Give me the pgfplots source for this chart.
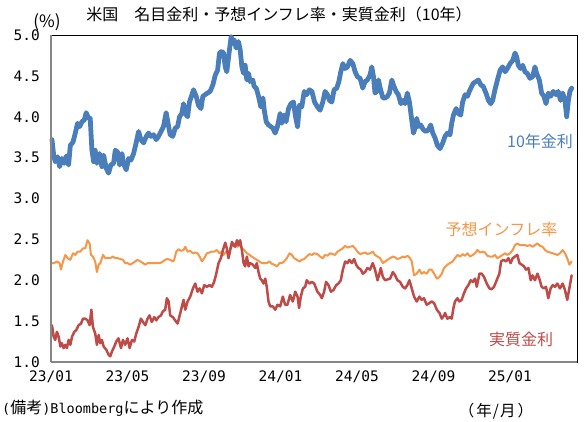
\documentclass[border=0pt]{standalone}
\usepackage{pgfplots}
\pgfplotsset{compat=1.18}
\usepackage{fontspec}
\setmainfont{Noto Sans CJK JP}
\newfontfamily\mono{DejaVu Sans Mono}
\definecolor{cblue}{RGB}{74,126,187}
\definecolor{corange}{RGB}{247,150,70}
\definecolor{cred}{RGB}{190,75,72}
\definecolor{caxis}{RGB}{134,134,134}
\begin{document}
\begin{tikzpicture}[x=1pt,y=1pt]
\path[use as bounding box] (0,0) rectangle (587,421);
\begin{axis}[
  at={(51pt,59pt)}, anchor=south west,
  scale only axis, width=526pt, height=327pt,
  xmin=0, xmax=27.5, ymin=1, ymax=5,
  xtick={0,4,8,12,16,20,24},
  xticklabels={23/01,23/05,23/09,24/01,24/05,24/09,25/01},
  ytick={1,1.5,2,2.5,3,3.5,4,4.5,5},
  major tick length=0pt,
  /pgf/number format/assume math mode=true,
  yticklabel style={/pgf/number format/fixed, /pgf/number format/fixed zerofill, /pgf/number format/precision=1, anchor=east, inner sep=0pt, xshift=-11pt},
  ticklabel style={font=\mono\fontsize{14.5}{15}\selectfont, text=black},
  xticklabel style={anchor=north, inner sep=0pt, yshift=-9pt},
  axis line style={black, line width=1pt},
  clip=false,
  every axis plot/.append style={line join=round, line cap=round},
  after end axis/.code={
    \draw[caxis, line width=1.2pt] (rel axis cs:0,0) -- (rel axis cs:0,1);
    \draw[caxis, line width=1.2pt] (rel axis cs:0,0) -- (rel axis cs:1,0);
  },
]
% 10-year nominal yield
\addplot[cblue, line width=4.8pt] coordinates {
(0.05,3.72)(0.14,3.53)(0.22,3.45)(0.35,3.51)(0.45,3.39)(0.57,3.49)(0.69,3.43)(0.80,3.52)(0.92,3.41)(1.01,3.65)(1.15,3.69)(1.27,3.80)(1.39,3.92)(1.50,3.88)(1.62,3.94)(1.74,3.96)(1.84,4.05)(1.97,3.98)(2.05,3.98)(2.14,3.59)(2.23,3.45)(2.31,3.59)(2.40,3.43)(2.54,3.55)(2.66,3.39)(2.75,3.53)(2.89,3.37)(3.01,3.31)(3.13,3.41)(3.27,3.43)(3.36,3.59)(3.48,3.57)(3.59,3.41)(3.71,3.55)(3.79,3.43)(3.93,3.35)(4.06,3.49)(4.18,3.47)(4.32,3.55)(4.46,3.69)(4.58,3.82)(4.70,3.72)(4.84,3.68)(4.98,3.76)(5.10,3.80)(5.22,3.76)(5.36,3.78)(5.50,3.72)(5.62,3.76)(5.75,3.82)(5.88,3.88)(6.02,4.05)(6.15,3.88)(6.23,3.78)(6.37,3.76)(6.49,3.86)(6.62,3.88)(6.72,4.00)(6.84,4.04)(6.93,4.16)(7.02,4.04)(7.14,4.00)(7.24,4.18)(7.37,4.27)(7.45,4.33)(7.59,4.25)(7.71,4.14)(7.84,4.10)(7.94,4.25)(8.06,4.27)(8.18,4.29)(8.32,4.31)(8.46,4.39)(8.59,4.51)(8.71,4.57)(8.81,4.78)(8.93,4.80)(9.02,4.78)(9.11,4.61)(9.19,4.55)(9.33,4.82)(9.42,4.98)(9.51,4.90)(9.58,4.94)(9.68,4.84)(9.80,4.92)(9.89,4.82)(9.98,4.61)(10.07,4.53)(10.15,4.63)(10.24,4.45)(10.33,4.53)(10.41,4.43)(10.55,4.45)(10.62,4.37)(10.73,4.35)(10.85,4.25)(10.97,4.12)(11.08,4.23)(11.15,4.08)(11.25,3.94)(11.37,3.90)(11.49,3.88)(11.60,3.86)(11.72,3.80)(11.84,3.88)(11.98,4.04)(12.07,3.92)(12.19,4.02)(12.29,3.94)(12.42,4.10)(12.54,4.16)(12.68,4.18)(12.77,4.02)(12.89,3.88)(12.99,4.14)(13.11,4.12)(13.24,4.31)(13.37,4.27)(13.51,4.33)(13.64,4.31)(13.78,4.18)(13.93,4.12)(14.07,4.08)(14.21,4.18)(14.33,4.31)(14.45,4.27)(14.56,4.20)(14.68,4.18)(14.80,4.33)(14.94,4.35)(15.05,4.43)(15.15,4.55)(15.26,4.65)(15.38,4.59)(15.50,4.61)(15.64,4.69)(15.78,4.65)(15.90,4.55)(16.02,4.49)(16.16,4.47)(16.30,4.35)(16.42,4.43)(16.54,4.45)(16.68,4.51)(16.77,4.61)(16.86,4.49)(16.94,4.29)(17.03,4.31)(17.12,4.45)(17.21,4.35)(17.35,4.23)(17.47,4.23)(17.59,4.25)(17.69,4.29)(17.82,4.45)(17.90,4.39)(18.04,4.31)(18.16,4.27)(18.29,4.16)(18.42,4.20)(18.51,4.16)(18.63,4.29)(18.74,4.18)(18.86,3.96)(18.95,3.80)(19.03,3.86)(19.12,3.98)(19.21,3.88)(19.33,3.90)(19.47,3.84)(19.61,3.82)(19.73,3.84)(19.85,3.90)(19.96,3.80)(20.08,3.74)(20.20,3.65)(20.34,3.61)(20.48,3.68)(20.60,3.76)(20.72,3.80)(20.86,3.78)(20.95,3.92)(21.04,4.02)(21.18,4.10)(21.30,4.04)(21.42,4.02)(21.52,4.18)(21.65,4.27)(21.77,4.25)(21.87,4.31)(21.99,4.37)(22.08,4.41)(22.22,4.43)(22.34,4.45)(22.47,4.39)(22.60,4.37)(22.74,4.29)(22.87,4.20)(22.99,4.16)(23.09,4.20)(23.21,4.33)(23.34,4.45)(23.48,4.57)(23.61,4.61)(23.74,4.55)(23.86,4.59)(24.00,4.65)(24.14,4.69)(24.26,4.78)(24.35,4.73)(24.43,4.63)(24.55,4.59)(24.66,4.63)(24.78,4.55)(24.90,4.53)(25.04,4.47)(25.18,4.49)(25.30,4.61)(25.39,4.53)(25.53,4.45)(25.65,4.29)(25.77,4.25)(25.88,4.16)(26.00,4.29)(26.12,4.25)(26.26,4.31)(26.40,4.27)(26.52,4.31)(26.64,4.20)(26.75,4.29)(26.87,4.20)(26.96,4.00)(27.05,4.20)(27.13,4.31)(27.22,4.35)
};
% breakeven inflation
\addplot[corange, line width=2pt] coordinates {
(0.05,2.21)(0.17,2.21)(0.31,2.23)(0.45,2.21)(0.52,2.13)(0.63,2.23)(0.75,2.31)(0.87,2.27)(1.01,2.25)(1.15,2.33)(1.27,2.31)(1.39,2.35)(1.53,2.35)(1.67,2.39)(1.79,2.39)(1.91,2.49)(2.02,2.45)(2.09,2.31)(2.19,2.29)(2.31,2.23)(2.40,2.10)(2.49,2.19)(2.58,2.21)(2.72,2.31)(2.84,2.27)(2.96,2.27)(3.10,2.27)(3.24,2.29)(3.36,2.27)(3.48,2.27)(3.62,2.26)(3.76,2.25)(3.88,2.21)(4.00,2.21)(4.14,2.19)(4.28,2.21)(4.40,2.23)(4.53,2.25)(4.67,2.23)(4.81,2.21)(4.93,2.19)(5.05,2.21)(5.19,2.21)(5.33,2.21)(5.45,2.21)(5.57,2.21)(5.71,2.21)(5.85,2.23)(5.97,2.25)(6.09,2.26)(6.23,2.25)(6.37,2.23)(6.44,2.25)(6.55,2.35)(6.67,2.38)(6.79,2.36)(6.93,2.37)(7.02,2.41)(7.14,2.35)(7.28,2.36)(7.42,2.33)(7.54,2.34)(7.66,2.33)(7.77,2.29)(7.89,2.23)(8.01,2.27)(8.15,2.33)(8.29,2.34)(8.41,2.35)(8.53,2.35)(8.67,2.37)(8.81,2.33)(8.93,2.35)(9.02,2.31)(9.16,2.35)(9.28,2.33)(9.37,2.39)(9.51,2.43)(9.63,2.45)(9.75,2.41)(9.86,2.43)(9.98,2.39)(10.10,2.37)(10.24,2.33)(10.38,2.31)(10.50,2.29)(10.62,2.27)(10.76,2.25)(10.90,2.23)(11.02,2.21)(11.15,2.21)(11.28,2.21)(11.42,2.23)(11.55,2.20)(11.67,2.19)(11.81,2.17)(11.95,2.21)(12.07,2.21)(12.19,2.23)(12.33,2.27)(12.47,2.33)(12.59,2.31)(12.71,2.27)(12.85,2.25)(12.99,2.23)(13.11,2.25)(13.24,2.26)(13.37,2.29)(13.51,2.32)(13.64,2.31)(13.76,2.33)(13.93,2.32)(14.07,2.29)(14.21,2.27)(14.33,2.31)(14.45,2.30)(14.59,2.33)(14.73,2.32)(14.85,2.31)(14.98,2.35)(15.12,2.37)(15.25,2.39)(15.38,2.42)(15.50,2.40)(15.64,2.41)(15.78,2.42)(15.90,2.39)(16.02,2.35)(16.16,2.32)(16.30,2.33)(16.42,2.34)(16.54,2.32)(16.68,2.33)(16.82,2.35)(16.94,2.31)(17.07,2.29)(17.21,2.27)(17.35,2.21)(17.47,2.23)(17.59,2.25)(17.73,2.27)(17.87,2.29)(17.99,2.28)(18.11,2.26)(18.25,2.27)(18.39,2.29)(18.51,2.28)(18.63,2.30)(18.77,2.27)(18.86,2.23)(18.98,2.06)(19.12,2.08)(19.26,2.13)(19.38,2.08)(19.50,2.10)(19.64,2.08)(19.78,2.13)(19.90,2.13)(20.03,2.08)(20.17,2.02)(20.31,2.04)(20.43,2.08)(20.55,2.15)(20.72,2.19)(20.86,2.21)(21.00,2.23)(21.12,2.27)(21.25,2.31)(21.39,2.29)(21.52,2.32)(21.65,2.30)(21.77,2.33)(21.91,2.29)(22.05,2.31)(22.17,2.33)(22.29,2.37)(22.43,2.34)(22.57,2.35)(22.69,2.34)(22.81,2.30)(22.95,2.29)(23.09,2.29)(23.21,2.31)(23.34,2.27)(23.48,2.29)(23.61,2.31)(23.74,2.33)(23.86,2.31)(24.00,2.33)(24.14,2.37)(24.26,2.43)(24.38,2.45)(24.52,2.43)(24.66,2.43)(24.78,2.43)(24.90,2.42)(25.04,2.43)(25.18,2.41)(25.30,2.43)(25.43,2.45)(25.57,2.42)(25.70,2.41)(25.83,2.37)(25.95,2.35)(26.09,2.34)(26.23,2.33)(26.35,2.32)(26.47,2.31)(26.61,2.33)(26.75,2.37)(26.87,2.33)(26.99,2.27)(27.10,2.19)(27.22,2.23)
};
% real yield
\addplot[cred, line width=2.5pt] coordinates {
(0.05,1.45)(0.14,1.31)(0.22,1.27)(0.31,1.37)(0.40,1.31)(0.49,1.19)(0.57,1.23)(0.66,1.17)(0.75,1.21)(0.83,1.17)(0.92,1.27)(1.01,1.21)(1.10,1.31)(1.22,1.37)(1.32,1.39)(1.44,1.45)(1.57,1.47)(1.67,1.53)(1.79,1.53)(1.91,1.51)(2.02,1.45)(2.11,1.64)(2.19,1.43)(2.31,1.35)(2.40,1.21)(2.49,1.33)(2.58,1.23)(2.66,1.27)(2.75,1.19)(2.89,1.15)(3.01,1.09)(3.10,1.07)(3.19,1.13)(3.31,1.19)(3.41,1.25)(3.53,1.29)(3.66,1.17)(3.76,1.27)(3.88,1.21)(4.00,1.29)(4.11,1.17)(4.23,1.27)(4.35,1.25)(4.46,1.35)(4.58,1.43)(4.70,1.53)(4.81,1.49)(4.93,1.45)(5.05,1.53)(5.15,1.57)(5.27,1.49)(5.40,1.55)(5.50,1.51)(5.62,1.55)(5.75,1.57)(5.85,1.62)(5.97,1.64)(6.06,1.78)(6.15,1.74)(6.23,1.57)(6.37,1.55)(6.49,1.51)(6.62,1.47)(6.76,1.60)(6.93,1.76)(7.02,1.64)(7.14,1.74)(7.28,1.80)(7.42,1.90)(7.54,1.96)(7.66,1.86)(7.77,1.90)(7.89,1.84)(8.01,1.94)(8.15,1.92)(8.29,1.94)(8.41,1.92)(8.53,1.98)(8.64,2.08)(8.76,2.21)(8.88,2.27)(8.99,2.37)(9.11,2.46)(9.19,2.39)(9.28,2.27)(9.37,2.37)(9.46,2.47)(9.54,2.43)(9.63,2.41)(9.72,2.49)(9.80,2.43)(9.89,2.49)(9.98,2.37)(10.07,2.21)(10.15,2.17)(10.24,2.29)(10.33,2.17)(10.41,2.21)(10.55,2.19)(10.68,2.15)(10.76,2.21)(10.85,2.10)(10.94,2.02)(11.02,2.00)(11.11,1.96)(11.20,2.02)(11.28,1.92)(11.37,1.74)(11.46,1.68)(11.60,1.68)(11.72,1.64)(11.84,1.70)(11.98,1.68)(12.12,1.80)(12.24,1.70)(12.36,1.70)(12.50,1.82)(12.64,1.74)(12.77,1.86)(12.89,1.80)(12.97,1.66)(13.06,1.80)(13.17,1.90)(13.29,1.92)(13.37,2.00)(13.51,1.96)(13.64,1.98)(13.76,1.96)(13.93,1.86)(14.07,1.82)(14.16,1.78)(14.28,1.86)(14.38,1.98)(14.51,1.94)(14.63,1.86)(14.77,1.88)(14.91,1.94)(15.03,1.96)(15.15,2.00)(15.26,2.13)(15.38,2.23)(15.50,2.21)(15.60,2.25)(15.73,2.21)(15.85,2.26)(15.95,2.19)(16.07,2.15)(16.20,2.13)(16.30,2.08)(16.42,2.10)(16.54,2.15)(16.68,2.13)(16.82,2.21)(16.94,2.13)(17.07,2.00)(17.17,2.08)(17.24,2.15)(17.35,2.04)(17.47,2.00)(17.59,2.01)(17.73,2.02)(17.87,2.10)(17.99,2.06)(18.11,2.00)(18.25,1.98)(18.39,1.92)(18.51,1.90)(18.63,1.94)(18.74,2.00)(18.86,1.90)(18.98,1.80)(19.12,1.74)(19.26,1.80)(19.38,1.76)(19.50,1.78)(19.64,1.70)(19.78,1.72)(19.90,1.74)(20.03,1.72)(20.17,1.64)(20.31,1.60)(20.43,1.53)(20.55,1.57)(20.60,1.60)(20.72,1.53)(20.86,1.55)(20.95,1.53)(21.04,1.66)(21.12,1.74)(21.25,1.78)(21.35,1.74)(21.47,1.76)(21.59,1.84)(21.70,1.90)(21.82,1.94)(21.94,2.00)(22.05,1.98)(22.17,2.02)(22.26,1.92)(22.40,2.08)(22.52,2.08)(22.64,2.04)(22.78,1.96)(22.92,1.90)(23.04,1.89)(23.16,1.92)(23.30,2.00)(23.44,2.08)(23.53,2.23)(23.65,2.25)(23.79,2.23)(23.91,2.27)(24.03,2.21)(24.14,2.27)(24.26,2.29)(24.38,2.31)(24.49,2.21)(24.61,2.19)(24.73,2.17)(24.83,2.13)(24.96,2.15)(25.08,2.00)(25.18,2.06)(25.30,2.00)(25.43,2.08)(25.53,2.02)(25.65,1.92)(25.77,1.90)(25.88,1.92)(26.00,1.78)(26.12,1.90)(26.23,1.94)(26.35,1.92)(26.47,1.96)(26.61,1.90)(26.75,1.96)(26.87,1.88)(26.99,1.76)(27.10,1.90)(27.22,2.06)
};
\end{axis}
\node[font=\fontsize{16}{16}\selectfont] at (279,407) {米国　名目金利・予想インフレ率・実質金利（10年）};
\node[font=\fontsize{17}{17}\selectfont] at (47,399) {(\%)};
\node[anchor=west, inner sep=0pt] at (2,13) {{\mono\fontsize{13.5}{14}\selectfont (}{\fontsize{16}{16}\selectfont 備考}{\mono\fontsize{13.5}{14}\selectfont )Bloomberg}{\fontsize{16}{16}\selectfont により作成}};
\node[font=\fontsize{15.5}{16}\selectfont] at (496,10) {（\hspace{2pt}年\hspace{1pt}/\hspace{1pt}月\hspace{2pt}）};
\node[font=\fontsize{16}{16}\selectfont, text=cblue] at (540,280) {10年金利};
\node[font=\fontsize{16}{16}\selectfont, text=corange] at (501.5,192) {予想インフレ率};
\node[font=\fontsize{16}{16}\selectfont, text=cred] at (521,82) {実質金利};
\end{tikzpicture}
\end{document}
